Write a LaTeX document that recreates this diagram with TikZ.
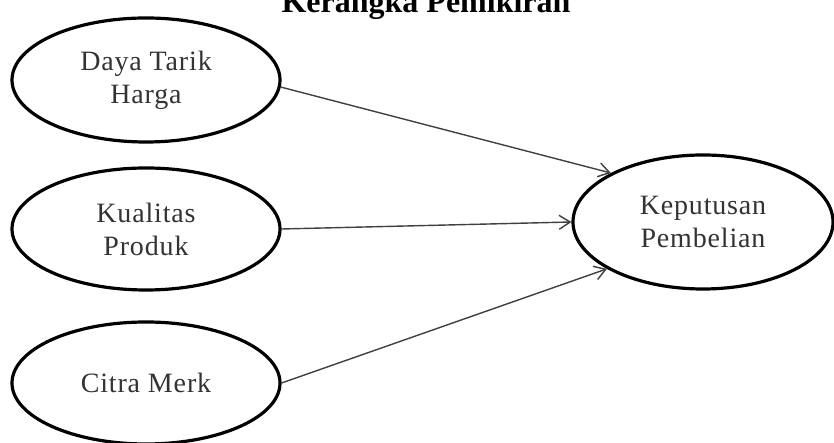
\documentclass[tikz,border=0pt]{standalone}
\usepackage{fontspec}
\setmainfont{Liberation Serif}
\newfontfamily\ovalfont[LetterSpace=3]{Liberation Serif}
\usetikzlibrary{shapes.geometric,arrows.meta}
\begin{document}
\begin{tikzpicture}[x=1pt,y=1pt,
  oval/.style={draw=black, line width=3.2pt, ellipse, inner sep=0pt,
    align=center, text=black!80, font=\ovalfont\fontsize{28}{33}\selectfont},
  link/.style={draw=black!75, line width=1.4pt,
    -{Straight Barb[length=11pt,width=14pt,line width=1.4pt]}}]
\useasboundingbox (0,0) rectangle (834,443);
\fill[white] (0,0) rectangle (834,443);
\node[font=\bfseries\fontsize{32}{36}\selectfont, anchor=base] (title) at (426,430) {Kerangka Pemikiran};
\node[oval, minimum width=268pt, minimum height=124pt] (e1) at (146,363) {Daya Tarik\\Harga};
\node[oval, minimum width=268pt, minimum height=122pt] (e2) at (146,214) {Kualitas\\Produk};
\node[oval, minimum width=268pt, minimum height=122pt] (e3) at (146,60) {Citra Merk};
\node[oval, minimum width=260pt, minimum height=134pt] (kp) at (703,221) {Keputusan\\Pembelian};
\draw[link] (e1.-3) -- (kp.152);
\draw[link] (e2.0) -- (kp.180);
\draw[link] (e3.0) -- (kp.206);
\end{tikzpicture}
\end{document}
